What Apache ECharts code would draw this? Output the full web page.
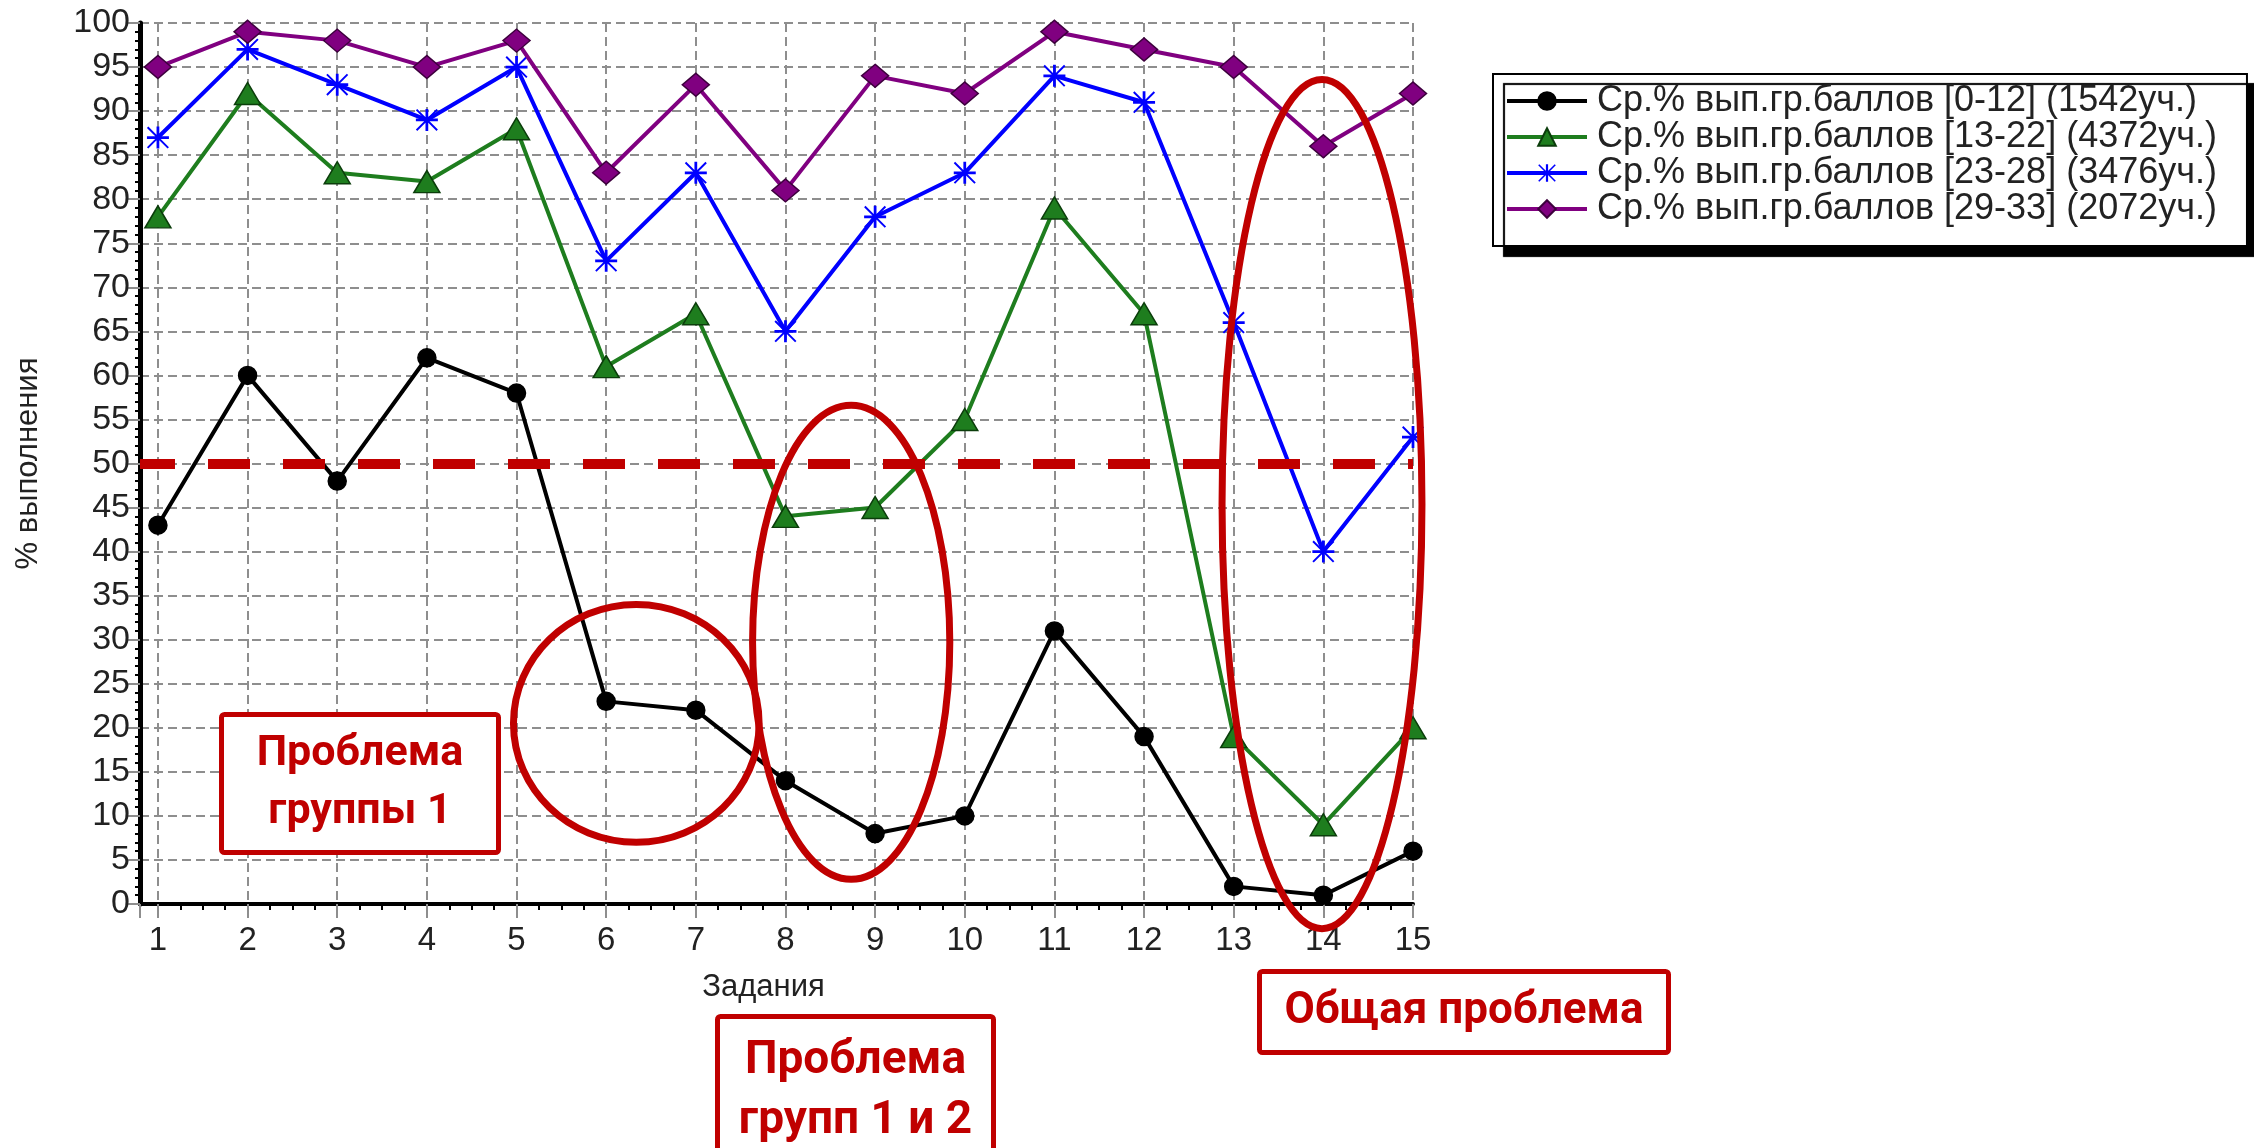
<!DOCTYPE html>
<html>
<head>
<meta charset="utf-8">
<script src="https://cdn.jsdelivr.net/npm/echarts@6/dist/echarts.min.js"></script>
<style>
  html, body { margin: 0; padding: 0; background: #fff; }
  #chart { width: 2254px; height: 1148px; }
</style>
</head>
<body>
<div id="chart"></div>
<script>
// ---------- DATA ----------
const TASKS = [1, 2, 3, 4, 5, 6, 7, 8, 9, 10, 11, 12, 13, 14, 15];
const GROUP_0_12  = [43, 60, 48, 62, 58, 23, 22, 14, 8, 10, 31, 19, 2, 1, 6];
const GROUP_13_22 = [78, 92, 83, 82, 88, 61, 67, 44, 45, 55, 79, 67, 19, 9, 20];
const GROUP_23_28 = [87, 97, 93, 89, 95, 73, 83, 65, 78, 83, 94, 91, 66, 40, 53];
const GROUP_29_33 = [95, 99, 98, 95, 98, 83, 93, 81, 94, 92, 99, 97, 95, 86, 92];
const SERIES_NAMES = [
  'Ср.% вып.гр.баллов [0-12] (1542уч.)',
  'Ср.% вып.гр.баллов [13-22] (4372уч.)',
  'Ср.% вып.гр.баллов [23-28] (3476уч.)',
  'Ср.% вып.гр.баллов [29-33] (2072уч.)'
];
const Y_MIN = 0, Y_MAX = 100, Y_STEP = 5;
const THRESHOLD = 50;
const X_NAME = 'Задания';
const Y_NAME = '% выполнения';
const NOTE_1 = 'Проблема\nгруппы 1';
const NOTE_2 = 'Проблема\nгрупп 1 и 2';
const NOTE_3 = 'Общая проблема';

// ---------- STYLE ----------
const RED = '#C00000';
const GRID_GRAY = '#8e8e8e';
const LABEL_FONT = '"Liberation Sans", Arial, sans-serif';
const NOTE_FONT = 'Roboto, "Noto Sans", sans-serif';
const ASTERISK = 'path://M0 10.5H24V13.5H0Z M10.5 0H13.5V24H10.5Z M1.5 0L24 22.5L22.5 24L0 1.5Z M22.5 0L24 1.5L1.5 24L0 22.5Z';

function pairs(vals) { return TASKS.map((t, i) => [t, vals[i]]); }

const chart = echarts.init(document.getElementById('chart'), null, { renderer: 'canvas' });

const seriesDefs = [
  { vals: GROUP_0_12,  color: '#000000', symbol: 'circle',   size: 18, border: '#000000' },
  { vals: GROUP_13_22, color: '#1e7d1e', symbol: 'triangle', size: [26, 22], border: '#0b3d0b' },
  { vals: GROUP_23_28, color: '#0000ff', symbol: ASTERISK,   size: 22, border: null },
  { vals: GROUP_29_33, color: '#800080', symbol: 'diamond',  size: [27, 23], border: '#3d003d' }
];

const series = seriesDefs.map((d, i) => ({
  name: SERIES_NAMES[i],
  type: 'line',
  data: pairs(d.vals),
  symbol: d.symbol,
  symbolSize: d.size,
  showAllSymbol: true,
  lineStyle: { color: d.color, width: 4 },
  itemStyle: d.border ? { color: d.color, borderColor: d.border, borderWidth: 1.5 } : { color: d.color, borderWidth: 0 },
  z: 3 + i,
  animation: false
}));

series[0].markLine = {
  silent: true,
  symbol: ['none', 'none'],
  label: { show: false },
  lineStyle: { color: RED, width: 10, type: [42, 33], dashOffset: 7, opacity: 1 },
  emphasis: { disabled: true },
  data: [{ yAxis: THRESHOLD }],
  z: 20,
  animation: false
};

const option = {
  animation: false,
  backgroundColor: '#ffffff',
  grid: { left: 140, top: 23, right: 841, bottom: 244, containLabel: false },
  legend: {
    orient: 'vertical',
    left: 1493,
    top: 74,
    padding: [9, 30, 19, 12],
    itemGap: 0,
    itemWidth: 80,
    itemHeight: 22,
    backgroundColor: '#ffffff',
    borderColor: '#000000',
    borderWidth: 2,
    borderRadius: 0,
    shadowColor: '#000000',
    shadowBlur: 1,
    shadowOffsetX: 11,
    shadowOffsetY: 10,
    selectedMode: false,
    lineStyle: { width: 4 },
    textStyle: { fontFamily: LABEL_FONT, fontSize: 36, color: '#222', lineHeight: 35, padding: [0, 0, 0, 5] },
    data: SERIES_NAMES
  },
  xAxis: {
    type: 'value',
    min: 0.8,
    max: 15,
    splitNumber: 14,
    name: X_NAME,
    nameLocation: 'middle',
    nameGap: 68,
    nameTextStyle: { fontFamily: LABEL_FONT, fontSize: 31, color: '#222', padding: [0, 26, 0, 0] },
    axisLine: { show: true, onZero: false, lineStyle: { color: '#000', width: 4 } },
    axisTick: { show: true, inside: false, length: 14, lineStyle: { color: GRID_GRAY, width: 2 } },
    minorTick: { show: true, splitNumber: 4, length: 6, lineStyle: { color: '#000', width: 2 } },
    axisLabel: {
      margin: 20,
      fontFamily: LABEL_FONT, fontSize: 33, color: '#222',
      formatter: v => (Math.abs(v - Math.round(v)) < 1e-6 ? String(Math.round(v)) : '')
    },
    splitLine: { show: true, lineStyle: { color: GRID_GRAY, width: 2, type: [9, 5] } }
  },
  yAxis: {
    type: 'value',
    min: Y_MIN,
    max: Y_MAX,
    interval: Y_STEP,
    name: Y_NAME,
    nameLocation: 'middle',
    nameGap: 96,
    nameTextStyle: { fontFamily: LABEL_FONT, fontSize: 31, color: '#222' },
    axisLine: { show: true, lineStyle: { color: '#000', width: 5 } },
    axisTick: { show: true, inside: false, length: 13, lineStyle: { color: GRID_GRAY, width: 2 } },
    minorTick: { show: true, splitNumber: 5, length: 5, lineStyle: { color: '#000', width: 2 } },
    axisLabel: { margin: 10, fontFamily: LABEL_FONT, fontSize: 34, color: '#222' },
    splitLine: { show: true, lineStyle: { color: GRID_GRAY, width: 2, type: [9, 5] } }
  },
  series: series
};

chart.setOption(option);

// ---------- ANNOTATIONS ----------
// Ellipses anchored in data space: [centerX, centerY, radiusX, radiusY]
const ELLIPSES = [
  [6.336, 20.5, 1.37, 13.5],
  [8.733, 29.7, 1.10, 26.9],
  [13.985, 45.4, 1.115, 48.2]
];
const graphics = ELLIPSES.map(e => {
  const c = chart.convertToPixel({ gridIndex: 0 }, [e[0], e[1]]);
  const r = chart.convertToPixel({ gridIndex: 0 }, [e[0] + e[2], e[1] + e[3]]);
  return {
    type: 'ellipse',
    silent: true,
    z: 100,
    shape: { cx: c[0], cy: c[1], rx: Math.abs(r[0] - c[0]), ry: Math.abs(c[1] - r[1]) },
    style: { fill: 'none', stroke: RED, lineWidth: 7 }
  };
});

function noteBox(text, left, top, w, h, lineHeight, fontSize) {
  return {
    type: 'group',
    left: left, top: top,
    z: 110,
    silent: true,
    children: [
      { type: 'rect', shape: { x: 0, y: 0, width: w, height: h, r: 3 },
        style: { fill: '#ffffff', stroke: RED, lineWidth: 5 } },
      { type: 'text', x: w / 2, y: h / 2,
        style: { text: text, fill: RED, font: 'bold ' + fontSize + 'px ' + NOTE_FONT, align: 'center',
                 verticalAlign: 'middle', lineHeight: lineHeight } }
    ]
  };
}
graphics.push(noteBox(NOTE_1, 219, 712, 277, 138, 58, 43));
graphics.push(noteBox(NOTE_2, 715, 1014, 276, 150, 60, 46));
graphics.push(noteBox(NOTE_3, 1257, 969, 409, 81, 50, 44));

chart.setOption({ graphic: graphics });
</script>
</body>
</html>
